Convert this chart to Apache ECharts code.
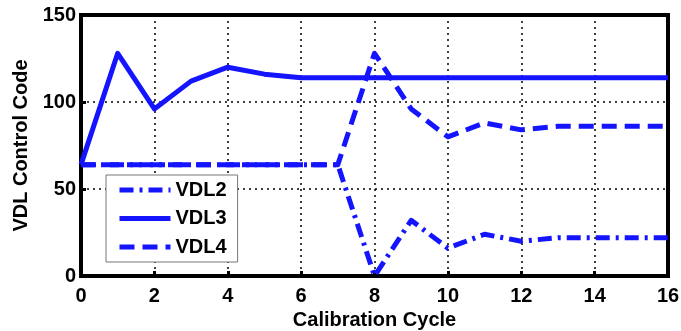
<!DOCTYPE html>
<html><head><meta charset="utf-8">
<script src="https://cdn.jsdelivr.net/npm/echarts@6/dist/echarts.min.js"></script>
<style>html,body{margin:0;padding:0;background:#fff}#c{width:681px;height:331px}</style>
</head><body><div id="c"></div>
<script>
const cycles = [0,1,2,3,4,5,6,7,8,9,10,11,12,13,14,15,16];
const vdl2 = [64,64,64,64,64,64,64,64,0,32,16,24,20,22,22,22,22];
const vdl3 = [64,128,96,112,120,116,114,114,114,114,114,114,114,114,114,114,114];
const vdl4 = [64,64,64,64,64,64,64,64,128,96,80,88,84,86,86,86,86];
const xTicks = [0,2,4,6,8,10,12,14,16];
const yTicks = [0,50,100,150];

const pairs = a => cycles.map((c,i)=>[c,a[i]]);
const blue = '#1414ff';
const font = 'Liberation Sans, Arial, sans-serif';
const chart = echarts.init(document.getElementById('c'));
const mk = (name, data, type) => ({
  name, type:'line', data: pairs(data), symbol:'none',
  lineStyle:{color:blue, width:5, type, cap:'butt', join:'round'},
  itemStyle:{color:blue}
});
chart.setOption({
  animation:false,
  grid:{left:81, right:13, top:15, bottom:55, outerBoundsMode:'none', containLabel:false,
    show:true, borderColor:'#000', borderWidth:4, backgroundColor:'#fff'},
  legend:{
    left:106, top:175, orient:'vertical',
    backgroundColor:'#fff', borderColor:'#777', borderWidth:1,
    padding:[5,11,5,11], itemGap:8.5, itemWidth:51, itemHeight:20, itemTextGap:5,
    itemStyle:{opacity:0},
    lineStyle:{width:5},
    textStyle:{fontFamily:font, fontWeight:'bold', fontSize:20, color:'#000'},
    data:['VDL2','VDL3','VDL4']
  },
  xAxis:{
    type:'value', min:0, max:16, interval:2,
    name:'Calibration Cycle', nameLocation:'middle', nameGap:29,
    nameTextStyle:{fontFamily:font, fontWeight:'bold', fontSize:20, color:'#000'},
    axisLine:{show:true, lineStyle:{color:'#000', width:4}},
    axisTick:{show:true, inside:true, length:5, lineStyle:{color:'#000', width:3}},
    axisLabel:{fontFamily:font, fontWeight:'bold', fontSize:20, color:'#000', margin:10,
      formatter: v => xTicks.includes(v) ? String(v) : ''},
    splitLine:{show:true, lineStyle:{color:'#000', width:1.5, type:[2,4]}}
  },
  yAxis:{
    type:'value', min:0, max:150, interval:50,
    name:'VDL Control Code', nameLocation:'middle', nameGap:43,
    nameTextStyle:{fontFamily:font, fontWeight:'bold', fontSize:20, color:'#000'},
    axisLine:{show:true, lineStyle:{color:'#000', width:4}},
    axisTick:{show:true, inside:true, length:5, lineStyle:{color:'#000', width:3}},
    axisLabel:{fontFamily:font, fontWeight:'bold', fontSize:20, color:'#000', margin:5,
      formatter: v => yTicks.includes(v) ? String(v) : ''},
    splitLine:{show:true, lineStyle:{color:'#000', width:1.5, type:[2,4]}}
  },
  series:[
    mk('VDL2', vdl2, [14,6,3,6]),
    mk('VDL3', vdl3, 'solid'),
    mk('VDL4', vdl4, [15,8])
  ]
});
</script></body></html>
